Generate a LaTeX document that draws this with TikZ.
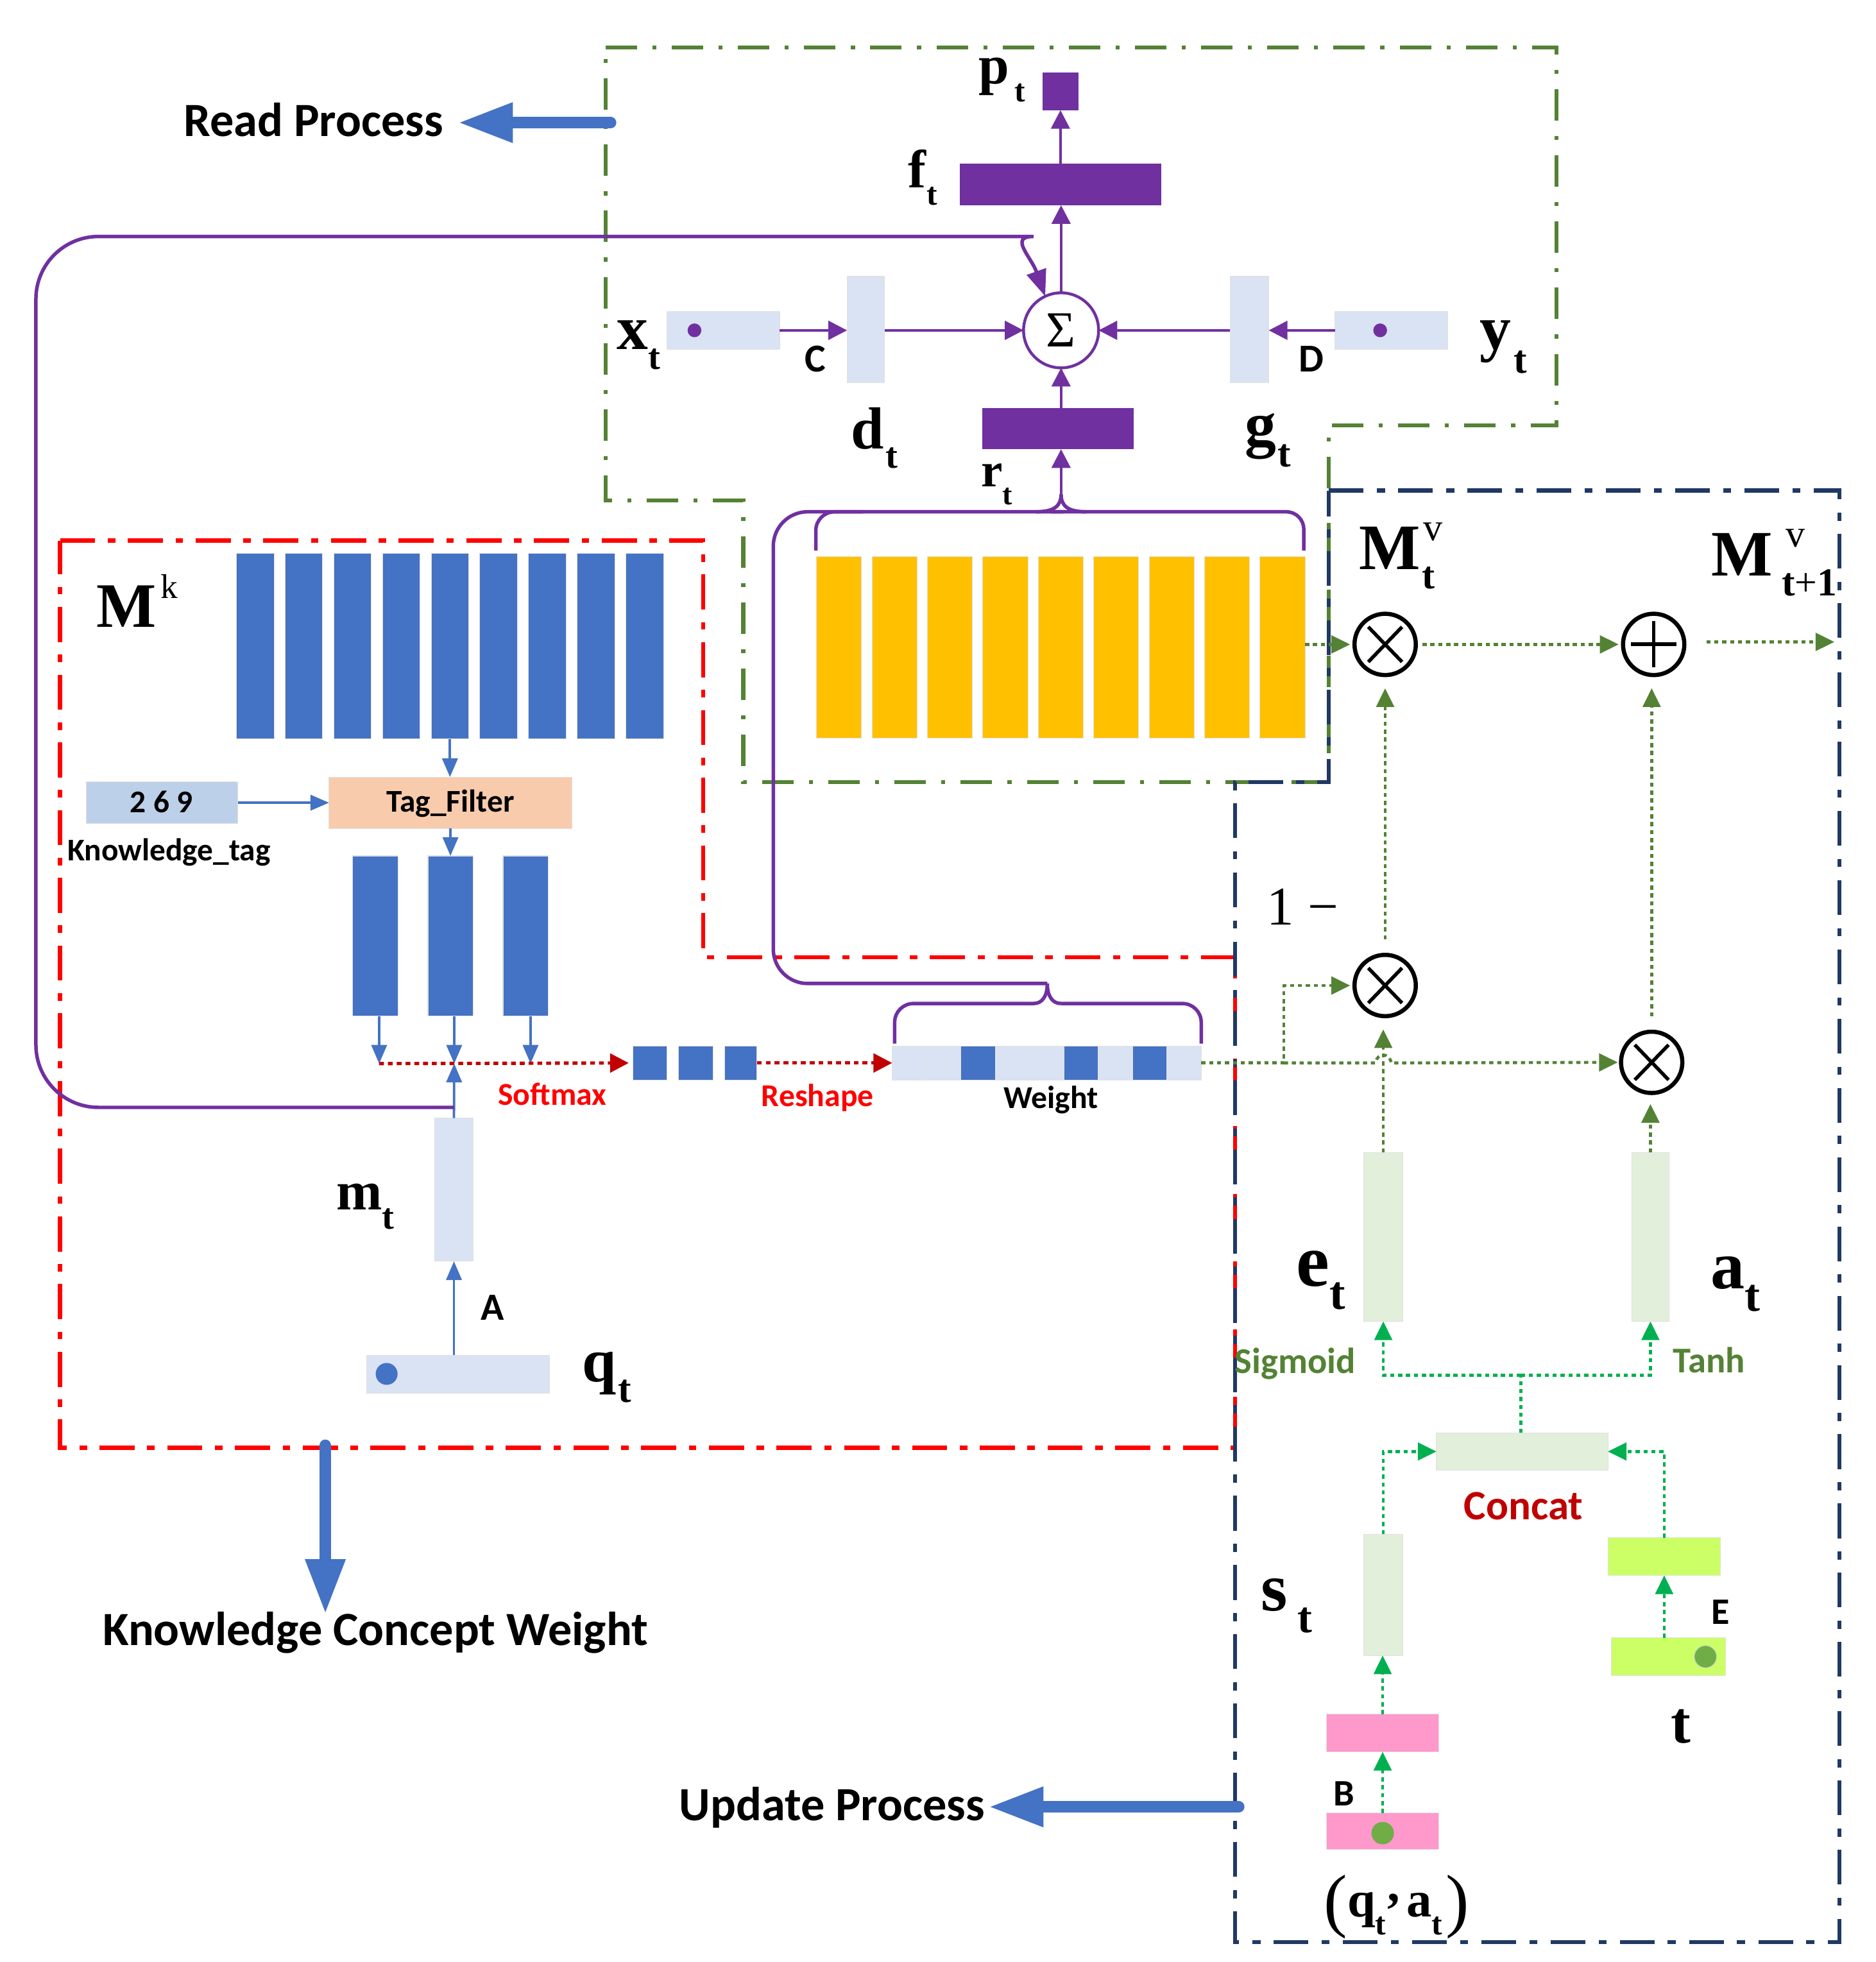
\documentclass[tikz,border=0pt]{standalone}
\usepackage{fontspec}
\setmainfont{Liberation Serif}
\newfontfamily\cali{Carlito}
\usetikzlibrary{arrows.meta}
\definecolor{cPur}{HTML}{7030A0}
\definecolor{cBlue}{HTML}{4472C4}
\definecolor{cLight}{HTML}{DAE3F3}
\definecolor{cTag}{HTML}{BDD0E9}
\definecolor{cPeach}{HTML}{F8CBAD}
\definecolor{cYel}{HTML}{FFC000}
\definecolor{cOlive}{HTML}{548235}
\definecolor{cBgreen}{HTML}{00B050}
\definecolor{cLgreen}{HTML}{E2EFDA}
\definecolor{cLime}{HTML}{CCFF66}
\definecolor{cPink}{HTML}{FF99CC}
\definecolor{cNavy}{HTML}{203864}
\definecolor{cRed}{HTML}{FF0000}
\definecolor{cDred}{HTML}{C00000}
\definecolor{cDot}{HTML}{70AD47}
\newcommand{\bx}[7]{\node[#6, minimum width={(#4-#2)*0.02cm}, minimum height={(#5-#3)*0.02cm}] (#1) at ({(#2+#4)/2},{(#3+#5)/2}) {#7};}
\newcommand{\lab}[6]{{\fontsize{#2}{#2}\selectfont #1}\kern#6pt\raisebox{-#5pt}{\fontsize{#4}{#4}\selectfont #3}}
\begin{document}
\begin{tikzpicture}[x=0.02cm,y=-0.02cm,
  every node/.style={inner sep=0pt,outer sep=0pt},
  bar/.style={rectangle, fill=#1, draw=black!12, line width=0.3pt},
  pbar/.style={rectangle, fill=cPur, draw=none},
  redbox/.style={draw=cRed, line width=1.9pt, dash pattern=on 16pt off 5.7pt on 3.4pt off 5.7pt},
  greenbox/.style={draw=cOlive, line width=1.9pt, dash pattern=on 14.3pt off 7pt on 1.8pt off 7pt},
  navybox/.style={draw=cNavy, line width=1.9pt, dash pattern=on 15.8pt off 6pt on 3.7pt off 6pt},
  ploop/.style={draw=cPur, line width=1.6pt},
  parrow/.style={draw=cPur, line width=1.2pt, -{Triangle[length=8.5pt,width=8.5pt]}},
  barrow/.style={draw=cBlue, line width=1.1pt, -{Triangle[length=8.5pt,width=7pt]}},
  rarrow/.style={draw=cDred, line width=1.5pt, dash pattern=on 2.2pt off 1.8pt, -{Triangle[length=8.5pt,width=8.5pt]}},
  garrow/.style={draw=cOlive, line width=1.35pt, dash pattern=on 1.9pt off 1.7pt, -{Triangle[length=8.5pt,width=8pt]}},
  bgline/.style={draw=cBgreen, line width=1.3pt, dash pattern=on 1.9pt off 1.7pt},
  bgarrow/.style={bgline, -{Triangle[length=8.5pt,width=8pt]}},
  bigarrow/.style={draw=cBlue, line width=5.2pt, line cap=round, -{Triangle[length=25pt,width=17pt]}},
  otimes/.style={circle, draw=black, line width=1.9pt, fill=white, minimum size=0.98cm,
    path picture={\draw[line width=1.6pt]
      ([shift={(-0.27cm,0.28cm)}]path picture bounding box.center) -- ([shift={(0.27cm,-0.28cm)}]path picture bounding box.center)
      ([shift={(-0.27cm,-0.28cm)}]path picture bounding box.center) -- ([shift={(0.27cm,0.28cm)}]path picture bounding box.center);}},
  oplus/.style={circle, draw=black, line width=1.9pt, fill=white, minimum size=0.98cm,
    path picture={\draw[line width=1.7pt]
      ([xshift=-0.36cm]path picture bounding box.center) -- ([xshift=0.36cm]path picture bounding box.center)
      ([yshift=-0.37cm]path picture bounding box.center) -- ([yshift=0.37cm]path picture bounding box.center);}},
  sans/.style={font={\cali\bfseries\fontsize{#1}{#1}\selectfont}, anchor=base west},
  serb/.style={font=\bfseries, anchor=base west}
]
\useasboundingbox (0,0) rectangle (1499,1568);
\fill[white] (0,0) rectangle (1499,1568);

% ---------- process frames ----------
\draw[redbox] (48,432) -- (562,432) -- (562,765) -- (987,765) -- (987,1157) -- (48,1157) -- cycle;
\draw[greenbox] (484,38) -- (1244,38) -- (1244,340) -- (1062,340) -- (1062,625) -- (594,625) -- (594,400) -- (484,400) -- cycle;
\draw[navybox] (1062,392) -- (1470,392) -- (1470,1552) -- (987,1552) -- (987,625) -- (1062,625) -- cycle;

% ---------- big process arrows ----------
\coordinate (rp0) at (488,98); \coordinate (rp1) at (366,98);
\coordinate (kc0) at (260,1155); \coordinate (kc1) at (260,1290);
\coordinate (up0) at (990,1444); \coordinate (up1) at (790,1444);
\draw[bigarrow] (rp0) -- (rp1);
\draw[bigarrow] (kc0) -- (kc1);
\draw[bigarrow] (up0) -- (up1);
\node[sans=21.7] (readlbl) at (147,109) {Read Process};
\node[sans=21.7, anchor=base] (kcwlbl) at (300,1315) {Knowledge Concept Weight};
\node[sans=21.7, anchor=base] (updlbl) at (665,1455) {Update Process};

% ---------- read process ----------
\bx{pt}{833}{58}{862}{88}{pbar}{}
\bx{ft}{767}{131}{928}{164}{pbar}{}
\bx{rt}{785}{326}{906}{359}{pbar}{}
\bx{xt}{533}{249}{623}{279}{bar=cLight}{}
\bx{cbar}{677}{221}{707}{306}{bar=cLight}{}
\bx{dbar}{983}{221}{1014}{306}{bar=cLight}{}
\bx{yt}{1067}{249}{1157}{279}{bar=cLight}{}
\node[circle, fill=cPur, minimum size=0.22cm] (xdot) at (555,264) {};
\node[circle, fill=cPur, minimum size=0.22cm] (ydot) at (1103,264) {};
\node[circle, draw=cPur, line width=1.3pt, fill=white, minimum size=1.2cm] (sigma) at (848,264) {\fontsize{23}{23}\selectfont Σ};

\draw[parrow] (xt.east) -- (xt.east -| cbar.west);
\draw[parrow] (cbar.east |- sigma.west) -- (sigma.west);
\draw[parrow] (yt.west) -- (yt.west -| dbar.east);
\draw[parrow] (dbar.west |- sigma.east) -- (sigma.east);
\draw[parrow] (rt.north -| sigma.south) -- (sigma.south);
\draw[parrow] (sigma.north) -- (sigma.north |- ft.south);
\draw[parrow] (ft.north -| pt.south) -- (pt.south);

\node[serb] (ptlbl) at (782,67) {\lab{p}{25}{t}{14.5}{8}{2.6}};
\node[serb] (ftlbl) at (726,150) {\lab{f}{24.5}{t}{14.5}{8}{0.3}};
\node[serb] (xtlbl) at (493,279) {\lab{x}{28.5}{t}{16.5}{9.1}{0}};
\node[serb] (dtlbl) at (680,358.5) {\lab{d}{27}{t}{16.5}{8.8}{0.9}};
\node[serb] (rtlbl) at (784,389) {\lab{r}{22}{t}{13.5}{8}{0}};
\node[serb] (gtlbl) at (995,356) {\lab{g}{28.5}{t}{18}{9.7}{0.5}};
\node[serb] (ytlbl) at (1182.6,279) {\lab{y}{28.5}{t}{18}{10.8}{1.3}};
\node[sans=18] (clbl) at (643,297) {C};
\node[sans=18] (dlbl) at (1038,297) {D};

% ---------- value memory (yellow) ----------
\foreach \k in {0,...,8}{
  \pgfmathsetmacro\xa{652.6+44.3*\k}\pgfmathsetmacro\xb{\xa+36}
  \bx{mv\k}{\xa}{445}{\xb}{590}{bar=cYel}{}
}

% ---------- key memory ----------
\foreach \k in {0,...,8}{
  \pgfmathsetmacro\xa{189+38.9*\k}\pgfmathsetmacro\xb{\xa+30}
  \bx{mk\k}{\xa}{442}{\xb}{590.5}{bar=cBlue}{}
}
\node[serb] (mklbl) at (77,501) {{\fontsize{28.8}{28.8}\selectfont M}\kern2.2pt\raisebox{13pt}{\mdseries\fontsize{15.6}{15.6}\selectfont k}};
\bx{tag}{263}{621}{457}{662}{bar=cPeach}{}
\bx{kt}{69}{625}{190}{658}{bar=cTag}{}
\node[sans=14.4, anchor=base] (taglbl) at (360,649) {Tag\_Filter};
\node[sans=14.4, anchor=base] (ktlbl) at (129,649.6) {2 6 9};
\node[sans=14.4] (kttext) at (54,688) {Knowledge\_tag};
\bx{fb1}{282}{684}{318}{812}{bar=cBlue}{}
\bx{fb2}{342}{684}{378}{812}{bar=cBlue}{}
\bx{fb3}{402}{684}{438}{812}{bar=cBlue}{}
\draw[barrow] (mk4.south) -- (mk4.south |- tag.north);
\draw[barrow] (kt.east) -- (kt.east -| tag.west);
\draw[barrow] (tag.south) -- (tag.south |- fb2.north);

\coordinate (j1) at (303,850); \coordinate (j2) at (363,850); \coordinate (j3) at (424,850);
\draw[barrow] (fb1.south -| j1) -- (j1);
\draw[barrow] (fb2.south -| j2) -- (j2);
\draw[barrow] (fb3.south -| j3) -- (j3);

\bx{sm1}{506}{836}{533}{863}{bar=cBlue}{}
\bx{sm2}{542}{836}{570}{863}{bar=cBlue}{}
\bx{sm3}{579}{836}{605}{863}{bar=cBlue}{}
\foreach \k/\c in {0/cLight,1/cLight,2/cBlue,3/cLight,4/cLight,5/cBlue,6/cLight,7/cBlue,8/cLight}{
  \pgfmathsetmacro\xa{713+27.44*\k}\pgfmathsetmacro\xb{\xa+27.44}
  \bx{w\k}{\xa}{836}{\xb}{863}{bar=\c}{}
}
\draw[rarrow, shorten >=2pt] (j1) -- (sm1.west);
\draw[rarrow] (sm3.east) -- (w0.west);
\node[sans=14.5, text=cRed] (smlbl) at (398,883) {Softmax};
\node[sans=14.5, text=cRed] (rslbl) at (608.5,884) {Reshape};
\node[sans=14.5] (wlbl) at (802,886) {Weight};

\bx{mt}{347.6}{893.5}{378}{1008}{bar=cLight}{}
\bx{qt}{293}{1083}{439}{1113.5}{bar=cLight}{}
\node[circle, fill=cBlue, minimum size=0.35cm] (qdot) at (309,1098) {};
\draw[barrow] (mt.south |- qt.north) -- (mt.south);
\draw[barrow] (mt.north) -- (j2);
\node[sans=17.5] (albl) at (384.5,1055) {A};
\node[serb] (mtlbl) at (269,967) {\lab{m}{25}{t}{16.5}{8.5}{0}};
\node[serb] (qtlbl) at (465.5,1104) {\lab{q}{28}{t}{18}{9.4}{0.6}};

% ---------- purple read connections ----------
\coordinate (mtj) at (363,885);
\draw[ploop, -{Triangle[length=12pt,width=9pt]}] (mtj) [rounded corners=1cm] -- (28.7,885) -- (28.7,189) -- (776,189) [sharp corners] .. controls (806,189) and (824,205) .. (sigma.115);
\coordinate (rbr) at (848,395);
\coordinate (wap) at (837,786);
\draw[ploop, rounded corners=0.55cm] (wap) -- (618,786) -- (618,409) -- (850,409);
\draw[ploop, rounded corners=0.28cm] (840,409) -- (1042,409) -- (1042,440);
\draw[ploop, rounded corners=0.3cm] (652,440) -- (652,409) -- (690,409);
\draw[ploop] (828,409) .. controls (843,409) and (848,404) .. (rbr);
\draw[ploop] (868,409) .. controls (853,409) and (848,404) .. (rbr);
\draw[parrow] (rbr) -- (rt.south -| rbr);
\draw[ploop, rounded corners=0.3cm] (715,834) -- (715,802) -- (826,802);
\draw[ploop] (826,802) .. controls (833,802) and (837,796) .. (wap);
\draw[ploop, rounded corners=0.3cm] (960,834) -- (960,802) -- (848,802);
\draw[ploop] (848,802) .. controls (841,802) and (837,796) .. (wap);

% ---------- update process ----------
\node[otimes] (otA) at (1107,515) {};
\node[oplus] (oplus) at (1321.6,515) {};
\node[otimes] (otB) at (1107,787.6) {};
\node[otimes] (otC) at (1320,849) {};
\coordinate (mout) at (1466,513);
\draw[garrow, shorten >=2pt] (mv8.east |- otA.west) -- (otA.west);
\draw[garrow, shorten <=3pt, shorten >=2pt] (otA.east) -- (oplus.west);
\draw[garrow, shorten <=10pt] (oplus.east |- mout) -- (mout);
\draw[garrow, shorten <=7pt, shorten >=6pt] (otB.north) -- (otA.south);
\draw[garrow, shorten <=7pt, shorten >=6pt] (otC.north) -- (otC.north |- oplus.south);

\bx{ebar}{1090}{921}{1121}{1056}{bar=cLgreen}{}
\bx{abar}{1304}{921}{1334}{1056}{bar=cLgreen}{}
\draw[garrow, shorten >=6pt] (ebar.north) -- (ebar.north |- otB.south);
\draw[garrow, shorten >=5pt] (abar.north) -- (abar.north |- otC.south);
\coordinate (wj) at (1026,849.5);
\draw[garrow, shorten >=2pt] (w8.east) -- (wj) |- (otB.west);
\draw[garrow, shorten >=1.5pt] (wj) -- (1099,849.5) .. controls (1101,841) and (1110,841) .. (1112,849.5) -- (otC.west);

\bx{concat}{1148}{1145}{1285}{1175}{bar=cLgreen}{}
\coordinate (cj) at (1215.5,1099);
\draw[bgline] (concat.north -| cj) -- (cj);
\draw[bgarrow] (cj) -| (ebar.south);
\draw[bgarrow] (cj) -| (abar.south);
\bx{stbar}{1090}{1226}{1121}{1323}{bar=cLgreen}{}
\bx{ebox}{1285}{1229}{1375}{1259}{bar=cLime}{}
\bx{tbox}{1288}{1309}{1379}{1339}{bar=cLime}{}
\node[circle, fill=cDot, draw=white!60!cDot, line width=0.4pt, minimum size=0.36cm] (tdot) at (1363,1324) {};
\bx{pk1}{1060}{1370}{1150}{1400}{bar=cPink}{}
\bx{pk2}{1060}{1449}{1150}{1478}{bar=cPink}{}
\node[circle, fill=cDot, minimum size=0.36cm] (pdot) at (1105,1465) {};
\draw[bgarrow] (stbar.north) |- (concat.west);
\draw[bgarrow] (ebox.north) |- (concat.east);
\draw[bgarrow] (ebox.south |- tbox.north) -- (ebox.south);
\draw[bgarrow] (pk2.north) -- (pk1.south);
\draw[bgarrow] (pk1.north) -- (pk1.north |- stbar.south);

\node[serb] (mvtlbl) at (1086,455) {{\fontsize{29.5}{29.5}\selectfont M}\kern1.5pt\rlap{\raisebox{13pt}{\mdseries\fontsize{17.6}{17.6}\selectfont v}}\kern-0.5pt\raisebox{-8.9pt}{\fontsize{17.6}{17.6}\selectfont t}};
\node[serb] (mvt1lbl) at (1368,460) {{\fontsize{29.5}{29.5}\selectfont M}\kern5.8pt\rlap{\raisebox{13pt}{\mdseries\fontsize{17.6}{17.6}\selectfont v}}\kern-1.7pt\raisebox{-9.1pt}{\fontsize{18}{18}\selectfont t{\mdseries+}1}};
\node[anchor=base west] (onelbl) at (1012.5,739) {\fontsize{24.8}{24.8}\selectfont 1 −};
\node[serb] (etlbl) at (1036,1028) {\lab{e}{34}{t}{21.5}{10.3}{0}};
\node[serb] (atlbl) at (1367,1030) {\lab{a}{31}{t}{21}{10.2}{0}};
\node[serb] (stlbl) at (1008,1287) {\lab{s}{31}{t}{20}{10.2}{4.4}};
\node[serb] (tlbl) at (1335.5,1393) {\fontsize{27}{27}\selectfont t};
\node[serb] (qalbl) at (1058,1532) {{\mdseries\fontsize{32}{32}\selectfont\raisebox{-3pt}{(}}\kern0.3pt\lab{q}{23}{t}{14.5}{8}{-0.5}\kern0.8pt\raisebox{7pt}{\fontsize{23}{23}\selectfont ,}\kern3pt\lab{a}{23}{t}{14.5}{8}{0}\kern1.5pt{\mdseries\fontsize{32}{32}\selectfont\raisebox{-3pt}{)}}};
\node[sans=16.5, text=cOlive] (siglbl) at (987,1097.6) {Sigmoid};
\node[sans=16.5, text=cOlive] (tanhlbl) at (1337,1097) {Tanh};
\node[sans=19, text=cDred] (conlbl) at (1170,1214.5) {Concat};
\node[sans=17] (elbl) at (1368,1298) {E};
\node[sans=17] (blbl) at (1065.6,1443) {B};
\end{tikzpicture}
\end{document}
